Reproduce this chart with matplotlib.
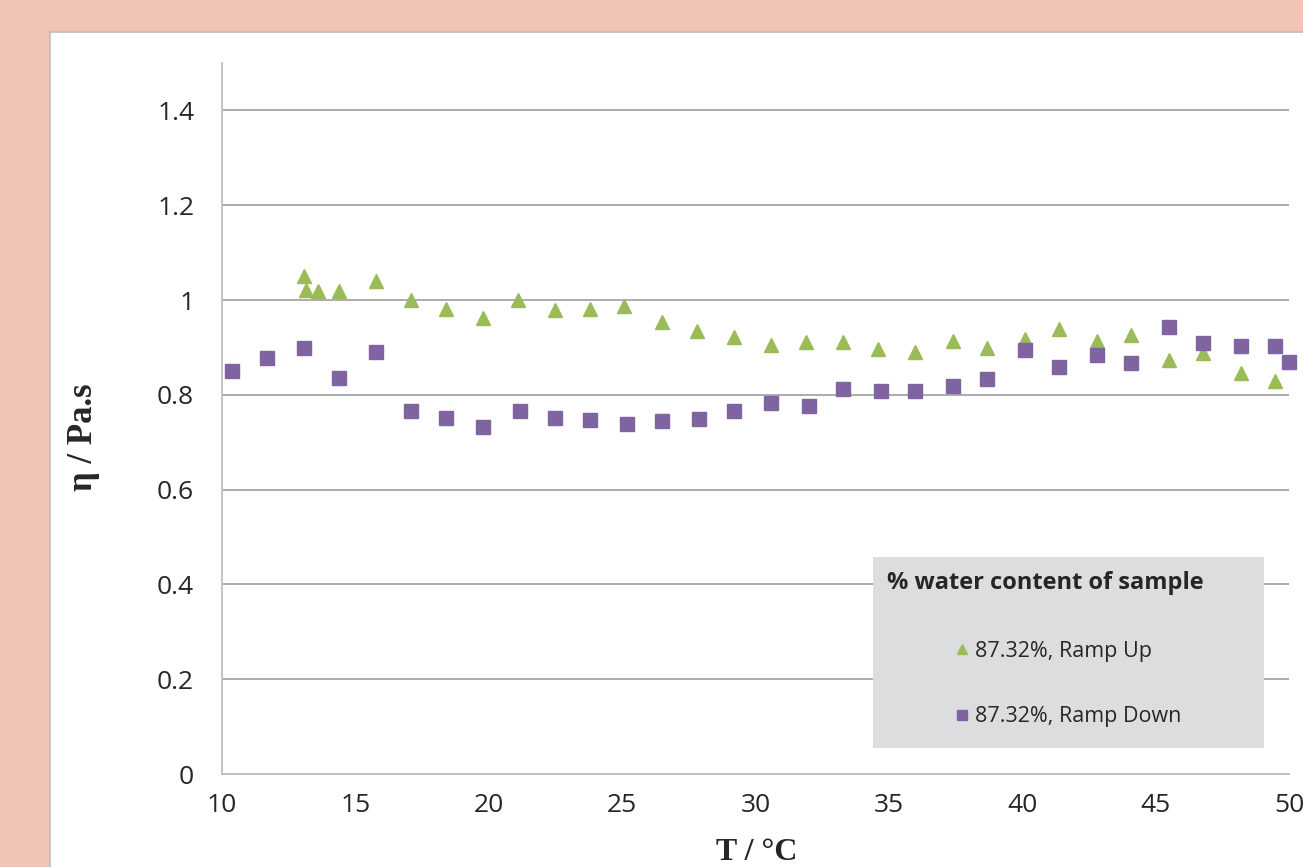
import numpy as np
import matplotlib.pyplot as plt
from matplotlib.patches import Rectangle

# viscosity vs temperature, heating (ramp up) and cooling (ramp down)
temp_up = [13.09, 13.15, 13.59, 14.39, 15.79, 17.09, 18.39, 19.78, 21.08, 22.48,
           23.78, 25.08, 26.49, 27.80, 29.19, 30.59, 31.89, 33.29, 34.59, 35.99,
           37.39, 38.69, 40.09, 41.39, 42.79, 44.09, 45.49, 46.79, 48.19, 49.49]
eta_up = [1.050, 1.022, 1.020, 1.020, 1.040, 0.999, 0.982, 0.962, 0.999, 0.978,
          0.981, 0.988, 0.954, 0.935, 0.922, 0.906, 0.912, 0.912, 0.896, 0.891,
          0.914, 0.899, 0.918, 0.939, 0.914, 0.926, 0.873, 0.889, 0.847, 0.829]

temp_down = [10.39, 11.69, 13.09, 14.39, 15.79, 17.09, 18.39, 19.78, 21.18, 22.48,
             23.78, 25.18, 26.49, 27.89, 29.19, 30.59, 31.99, 33.29, 34.69, 35.99,
             37.39, 38.69, 40.09, 41.39, 42.79, 44.09, 45.49, 46.79, 48.19, 49.49,
             50.00]
eta_down = [0.851, 0.878, 0.899, 0.835, 0.890, 0.765, 0.752, 0.733, 0.765, 0.752,
            0.747, 0.738, 0.745, 0.750, 0.766, 0.782, 0.776, 0.812, 0.808, 0.809,
            0.819, 0.833, 0.895, 0.859, 0.883, 0.868, 0.944, 0.909, 0.903, 0.904,
            0.869]

label_up = '87.32%, Ramp Up'
label_down = '87.32%, Ramp Down'
legend_title = '% water content of sample'

y_ticks = [0, 0.2, 0.4, 0.6, 0.8, 1.0, 1.2, 1.4]
y_ticklabels = ['0', '0.2', '0.4', '0.6', '0.8', '1', '1.2', '1.4']
x_ticks = [10, 15, 20, 25, 30, 35, 40, 45, 50]

green = '#9BBB59'
purple = '#8064A2'
text_col = '#262626'

plt.rcParams['font.family'] = ['Open Sans', 'DejaVu Sans']

W, H = 1303, 867
fig = plt.figure(figsize=(W / 100, H / 100), dpi=100)
fig.patch.set_facecolor('#F1C4B5')

# white chart panel
panel = Rectangle((50 / W, -0.1), 1.0, 1 - 32 / H + 0.1, transform=fig.transFigure,
                  facecolor='white', edgecolor='#BDBDBD', lw=1.2, zorder=-1)
fig.add_artist(panel)

ax = fig.add_axes([222 / W, 1 - 774 / H, (1289 - 222) / W, (774 - 63) / H])
ax.set_facecolor('none')

ax.plot(temp_up, eta_up, linestyle='none', marker='^', ms=9.5, color=green,
        label=label_up, clip_on=False, zorder=3)
ax.plot(temp_down, eta_down, linestyle='none', marker='s', ms=10, color=purple,
        label=label_down, clip_on=False, zorder=4)

ax.set_xlim(10, 50)
ax.set_ylim(0, 1.5)
ax.set_xticks(x_ticks)
ax.set_yticks(y_ticks)
ax.set_yticklabels(y_ticklabels)
ax.tick_params(length=0, labelsize=19, labelcolor=text_col)
ax.tick_params(axis='y', pad=20)
ax.tick_params(axis='x', pad=14)

ax.yaxis.grid(True, color='#A6A6A6', lw=1.3)
ax.set_axisbelow(True)
for s in ['top', 'right']:
    ax.spines[s].set_visible(False)
for s in ['left', 'bottom']:
    ax.spines[s].set_color('#BFBFBF')
    ax.spines[s].set_linewidth(1.3)

# axis titles
fig.text(757 / W, 1 - 853 / H, 'T / °C', family='Liberation Serif', weight='bold',
         size=23, color=text_col, ha='center', va='center')
fig.text(83 / W, 1 - 437 / H, 'η / Pa.s', family='Liberation Serif', weight='bold',
         size=25, color=text_col, ha='center', va='center', rotation=90)

# legend box
box = Rectangle((0.6101, 0.0366), 0.3665, 0.2686, transform=ax.transAxes,
                facecolor='#DCDDDF', edgecolor='none', zorder=2.5)
ax.add_patch(box)
ax.text(0.6232, 0.2686, legend_title, transform=ax.transAxes, weight='bold',
        size=17, color=text_col, ha='left', va='center', zorder=5)
leg = ax.legend(loc='center left', bbox_to_anchor=(0.6866, 0.1266), frameon=False,
                fontsize=15.5, markerscale=0.75, handlelength=0.7, handletextpad=0.25,
                borderpad=0, borderaxespad=0, labelspacing=2.05)
for t in leg.get_texts():
    t.set_color(text_col)
leg.set_zorder(5)

fig.savefig('out.png', dpi=100, facecolor=fig.get_facecolor())
